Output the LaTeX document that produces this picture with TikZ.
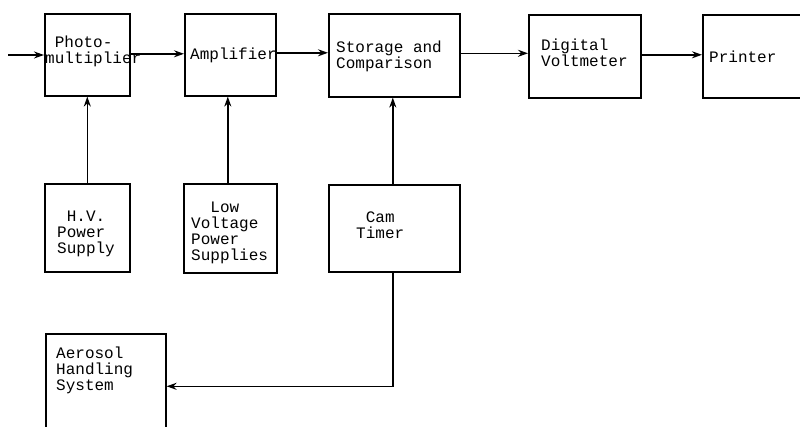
\documentclass[tikz,border=0pt]{standalone}
\usepackage{fontspec}
\setmonofont{Liberation Mono}
\usetikzlibrary{arrows.meta}
\tikzset{
  blk/.style={draw, line width=1.6pt, minimum width=#1, anchor=north west, inner sep=0pt},
  blk/.default=85pt,
  lbl/.style={anchor=base west, inner sep=0pt, align=left,
              font=\ttfamily\fontsize{16}{16}\selectfont},
  arr/.style={line width=1.5pt, -{Stealth[length=10pt,width=7pt]}},
}
\begin{document}
\begin{tikzpicture}[x=1pt,y=-1pt]
\useasboundingbox (0,0) rectangle (800,427);
\clip (0,0) rectangle (800,427);
% blocks
\node[blk=85pt,  minimum height=82pt] (pm)  at (44,13)  {};
\node[blk=91pt,  minimum height=82pt] (amp) at (184,13) {};
\node[blk=131pt, minimum height=83pt] (sto) at (328,13) {};
\node[blk=112pt, minimum height=83pt] (dvm) at (528,14) {};
\node[blk=120pt, minimum height=83pt] (prn) at (702,14) {};
\node[blk=85pt,  minimum height=88pt] (hv)  at (44,183) {};
\node[blk=93pt,  minimum height=89pt] (lv)  at (183,183) {};
\node[blk=131pt, minimum height=87pt] (cam) at (328,184) {};
\node[blk=120pt, minimum height=105pt] (aer) at (45,333) {};
% labels (anchored at the baseline of their last line)
\node[lbl] (tpm)  at (45,64)  {\phantom{P}Photo-\\multiplier};
\node[lbl] (tamp) at (190,60) {Amplifier};
\node[lbl] (tsto) at (336,69) {Storage and\\Comparison};
\node[lbl] (tdvm) at (541,67) {Digital\\Voltmeter};
\node[lbl] (tprn) at (709,63) {Printer};
\node[lbl] (thv)  at (57,254) {\phantom{H}H.V.\\Power\\Supply};
\node[lbl] (tlv)  at (191,261) {\phantom{Vo}Low\\Voltage\\Power\\Supplies};
\node[lbl] (tcam) at (356,239) {\phantom{T}Cam\\Timer};
\node[lbl] (taer) at (56,390) {Aerosol\\Handling\\System};
% signal path
\coordinate (src) at (8,55);
\draw[arr] (src) -- (src -| pm.west);
\draw[arr] ([yshift=1pt]pm.east) -- ([yshift=1pt]pm.east -| amp.west);
\draw[arr] ([yshift=2pt]amp.east) -- ([yshift=2pt]amp.east -| sto.west);
\draw[arr] ([yshift=2pt]sto.east) -- ([yshift=2pt]sto.east -| dvm.west);
\draw[arr] ([yshift=1.5pt]dvm.east) -- ([yshift=1.5pt]dvm.east -| prn.west);
% supplies and timing
\draw[arr] (hv.north) -- (hv.north |- pm.south);
\draw[arr] ([xshift=-2.5pt]lv.north) -- ([xshift=-2.5pt]lv.north |- amp.south);
\draw[arr] ([xshift=-1.5pt]cam.north) -- ([xshift=-1.5pt]cam.north |- sto.south);
\draw[arr] ([xshift=-1.5pt]cam.south) |- (aer.east);
\end{tikzpicture}
\end{document}
